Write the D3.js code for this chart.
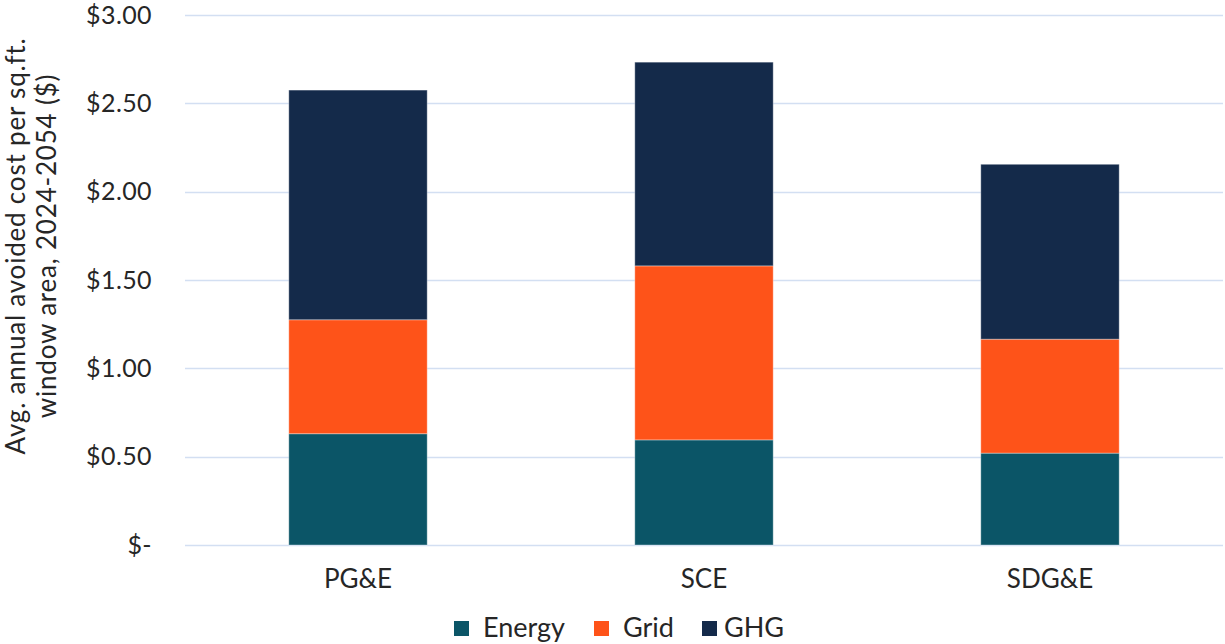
<!DOCTYPE html>
<html>
<head>
<meta charset="utf-8">
<script src="https://cdn.jsdelivr.net/npm/d3@7"></script>
<style>
  body { margin: 0; background: #fff; }
  svg { font-family: Lato, "Open Sans", sans-serif; }
</style>
</head>
<body>
<script>
var w = 1225;
var h = 644;

// Data
var utilities = ["PG&E", "SCE", "SDG&E"];
var energy = [0.63, 0.595, 0.52];
var grid = [0.645, 0.985, 0.645];
var ghg = [1.30, 1.153, 0.99];
var seriesNames = ["Energy", "Grid", "GHG"];
var seriesColors = ["#0b5567", "#fe5319", "#142a4a"];
var tickValues = [0, 0.5, 1, 1.5, 2, 2.5, 3];
var tickLabels = ["$-", "$0.50", "$1.00", "$1.50", "$2.00", "$2.50", "$3.00"];

// Build rows for the stack
var rows = utilities.map(function(u, i) {
    return { name: u, Energy: energy[i], Grid: grid[i], GHG: ghg[i] };
});

var margin = { top: 15, right: 2, bottom: 99, left: 185 };

var svg = d3.select("body")
    .append("svg")
    .attr("width", w)
    .attr("height", h);

var x = d3.scaleBand()
    .domain(utilities)
    .range([margin.left, w - margin.right])
    .paddingInner(0.6)
    .paddingOuter(0.3);

var y = d3.scaleLinear()
    .domain([0, 3])
    .range([h - margin.bottom, margin.top]);

var color = d3.scaleOrdinal()
    .domain(seriesNames)
    .range(seriesColors);

// Gridlines
svg.append("g")
    .selectAll("line")
    .data(tickValues)
    .enter()
    .append("line")
    .attr("x1", margin.left)
    .attr("x2", w - margin.right)
    .attr("y1", function(d) { return Math.round(y(d)) + 0.5; })
    .attr("y2", function(d) { return Math.round(y(d)) + 0.5; })
    .attr("stroke", "#d3dff2")
    .attr("stroke-width", 1.5);

// Y tick labels
var yAxis = d3.axisLeft(y)
    .tickValues(tickValues)
    .tickFormat(function(d, i) { return tickLabels[i]; })
    .tickSize(0)
    .tickPadding(33);

var gy = svg.append("g")
    .attr("transform", "translate(" + margin.left + ",0)")
    .call(yAxis);
gy.select(".domain").remove();
gy.selectAll("text")
    .attr("font-size", 25)
    .attr("letter-spacing", 0.4)
    .attr("font-family", "Lato, sans-serif")
    .attr("fill", "#262626");

// Stacked bars
var stack = d3.stack().keys(seriesNames);
var layers = stack(rows);

svg.append("g")
    .selectAll("g")
    .data(layers)
    .enter()
    .append("g")
    .attr("fill", function(d) { return color(d.key); })
    .selectAll("rect")
    .data(function(d) { return d; })
    .enter()
    .append("rect")
    .attr("x", function(d) { return x(d.data.name); })
    .attr("width", x.bandwidth())
    .attr("y", function(d) { return y(d[1]); })
    .attr("height", function(d) { return y(d[0]) - y(d[1]); })
    .attr("stroke", "rgba(255,255,255,0.35)")
    .attr("stroke-width", 1);

// X axis labels
var xAxis = d3.axisBottom(x).tickSize(0).tickPadding(25);
var gx = svg.append("g")
    .attr("transform", "translate(0," + (h - margin.bottom) + ")")
    .call(xAxis);
gx.select(".domain").remove();
gx.selectAll("text")
    .attr("font-size", 26)
    .attr("font-family", "Lato, sans-serif")
    .attr("fill", "#262626");

// Y axis title
var title = svg.append("text")
    .attr("transform", "translate(0,246) rotate(-90)")
    .attr("text-anchor", "middle")
    .attr("font-size", 26)
    .attr("letter-spacing", 0.8)
    .attr("fill", "#262626");
title.append("tspan").attr("x", 0).attr("y", 25).text("Avg. annual avoided cost per sq.ft.");
title.append("tspan").attr("x", 0).attr("y", 56).text("window area, 2024-2054 ($)");

// Legend
var legendX = [454, 594, 702];
var legend = svg.selectAll(".legend")
    .data(seriesNames)
    .enter()
    .append("g")
    .attr("class", "legend")
    .attr("transform", function(d, i) {
        return "translate(" + legendX[i] + ",621)";
    });

legend.append("rect")
    .attr("width", 15)
    .attr("height", 15)
    .attr("fill", function(d) { return color(d); });

legend.append("text")
    .attr("x", function(d, i) { return i == 2 ? 22 : 29; })
    .attr("y", 8)
    .attr("dy", ".3em")
    .attr("font-size", 27)
    .attr("fill", "#262626")
    .text(function(d) { return d; });
</script>
</body>
</html>
